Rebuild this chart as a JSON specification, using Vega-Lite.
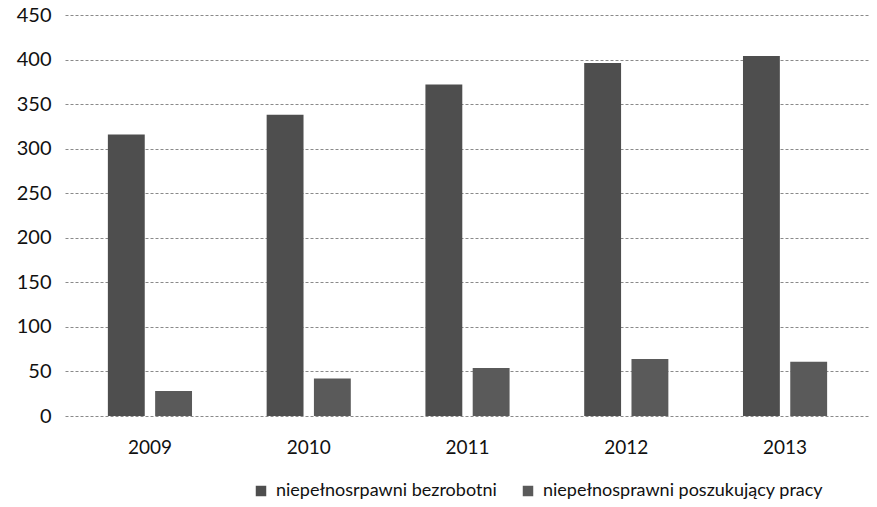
{
  "$schema": "https://vega.github.io/schema/vega-lite/v6.json",
  "width": 805,
  "height": 401,
  "autosize": "none",
  "padding": {"left": 65, "top": 15, "right": 7, "bottom": 91},
  "background": "white",
  "config": {
    "view": {"stroke": null},
    "font": "Lato",
    "axis": {"labelFont": "Lato", "labelColor": "#111", "labelFontSize": 18, "ticks": false, "domain": false},
    "legend": {"labelFont": "Lato", "labelColor": "#111", "labelFontSize": 18, "labelLimit": 0}
  },
  "data": {
    "values": [
      {"rok": "2009", "seria": "niepełnosrpawni bezrobotni", "wartosc": 316},
      {"rok": "2009", "seria": "niepełnosprawni poszukujący pracy", "wartosc": 28},
      {"rok": "2010", "seria": "niepełnosrpawni bezrobotni", "wartosc": 338},
      {"rok": "2010", "seria": "niepełnosprawni poszukujący pracy", "wartosc": 42},
      {"rok": "2011", "seria": "niepełnosrpawni bezrobotni", "wartosc": 372},
      {"rok": "2011", "seria": "niepełnosprawni poszukujący pracy", "wartosc": 54},
      {"rok": "2012", "seria": "niepełnosrpawni bezrobotni", "wartosc": 396},
      {"rok": "2012", "seria": "niepełnosprawni poszukujący pracy", "wartosc": 64},
      {"rok": "2013", "seria": "niepełnosrpawni bezrobotni", "wartosc": 404},
      {"rok": "2013", "seria": "niepełnosprawni poszukujący pracy", "wartosc": 61}
    ]
  },
  "mark": {"type": "bar"},
  "encoding": {
    "x": {
      "field": "rok", "type": "nominal", "title": null,
      "scale": {"paddingInner": 0.47, "paddingOuter": 0.27},
      "axis": {"labelAngle": 0, "labelPadding": 22, "grid": false, "labelFontSize": 19}
    },
    "xOffset": {"field": "seria", "type": "nominal", "sort": ["niepełnosrpawni bezrobotni", "niepełnosprawni poszukujący pracy"], "scale": {"paddingInner": 0.22}},
    "y": {
      "field": "wartosc", "type": "quantitative", "title": null,
      "scale": {"domain": [0, 450], "nice": false},
      "axis": {"values": [0, 50, 100, 150, 200, 250, 300, 350, 400, 450], "labelPadding": 14, "labelFontSize": 20, "grid": true, "gridColor": "#8a8a8a", "gridDash": [3, 2], "gridWidth": 1}
    },
    "color": {
      "field": "seria", "type": "nominal", "title": null,
      "sort": ["niepełnosrpawni bezrobotni", "niepełnosprawni poszukujący pracy"],
      "scale": {"range": ["#4e4e4e", "#5a5a5a"]},
      "legend": {"orient": "none", "direction": "horizontal", "legendX": 187, "legendY": 467, "symbolType": "square", "symbolSize": 110, "columnPadding": 22, "labelOffset": 6}
    }
  }
}
